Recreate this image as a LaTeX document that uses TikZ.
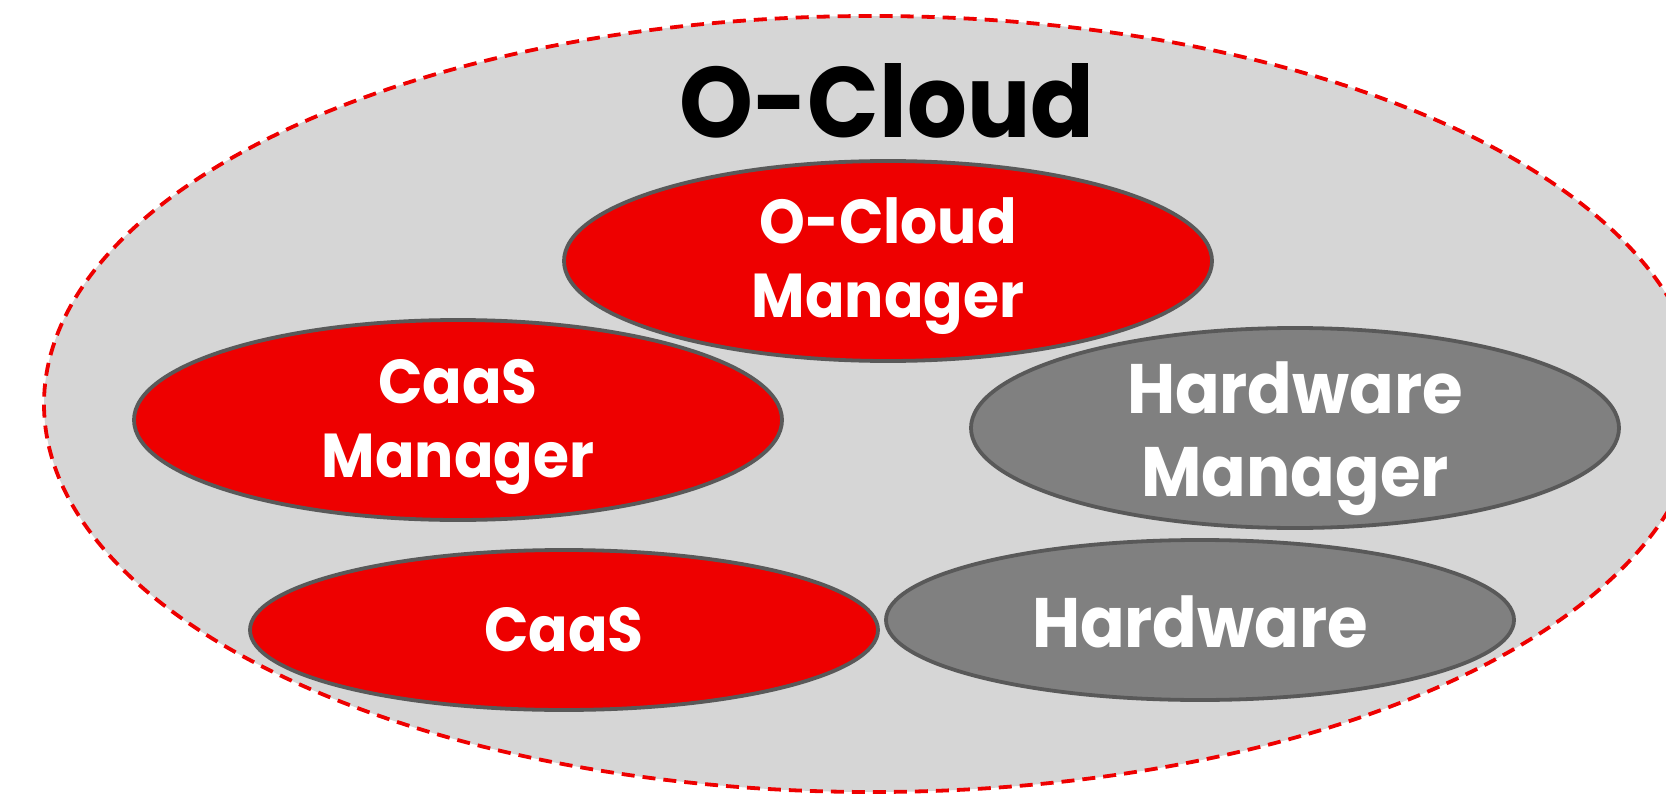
\documentclass[tikz,border=0pt]{standalone}
\usepackage{fontspec}
\setmainfont{Poppins}[FakeStretch=0.94]
\usetikzlibrary{shapes.geometric}
\definecolor{rhred}{HTML}{EE0000}
\definecolor{cloudbg}{HTML}{D6D6D6}
\definecolor{hwgray}{HTML}{808080}
\definecolor{rimgray}{HTML}{595959}
\tikzset{
  cloud/.style={ellipse, draw=rhred, fill=cloudbg, line width=1.9pt,
    dash pattern=on 6.5pt off 4pt, inner sep=0pt,
    minimum width=828pt, minimum height=388pt},
  blob/.style={ellipse, draw=rimgray, line width=1.9pt, inner sep=0pt},
  bigblob/.style={blob, minimum width=324pt, minimum height=100pt},
  smallblob/.style={blob, minimum width=314pt, minimum height=80pt},
  redblob/.style={fill=rhred},
  grayblob/.style={fill=hwgray},
  blobtext/.style={text=white, align=center, inner sep=0pt,
    font=\bfseries\fontsize{31}{37}\selectfont},
  bigtext/.style={blobtext, font=\bfseries\fontsize{35}{41.5}\selectfont},
  title/.style={font=\bfseries\fontsize{50}{60}\selectfont, text=black}
}
\begin{document}
\begin{tikzpicture}[x=0.5pt,y=-0.5pt]
  \clip (0,0) rectangle (1666,797);
  % container
  \node[cloud] (ocloud) at (872,404) {};
  \node[title] (octitle) at (887,101) {O-Cloud};
  % managers
  \node[bigblob, redblob,
    label={[blobtext, yshift=-3.7pt]center:CaaS\\Manager}] (cm) at (458,420) {};
  \node[bigblob, redblob,
    label={[blobtext, yshift=-2.7pt]center:O-Cloud\\Manager}] (om) at (888,261) {};
  \node[bigblob, grayblob,
    label={[bigtext, yshift=-5.3pt]center:Hardware\\Manager}] (hm) at (1295,428) {};
  % resources
  \node[smallblob, redblob,
    label={[blobtext]center:CaaS}] (caas) at (564,630) {};
  \node[smallblob, grayblob,
    label={[bigtext, yshift=-1pt]center:Hardware}] (hw) at (1200,620) {};
\end{tikzpicture}
\end{document}
